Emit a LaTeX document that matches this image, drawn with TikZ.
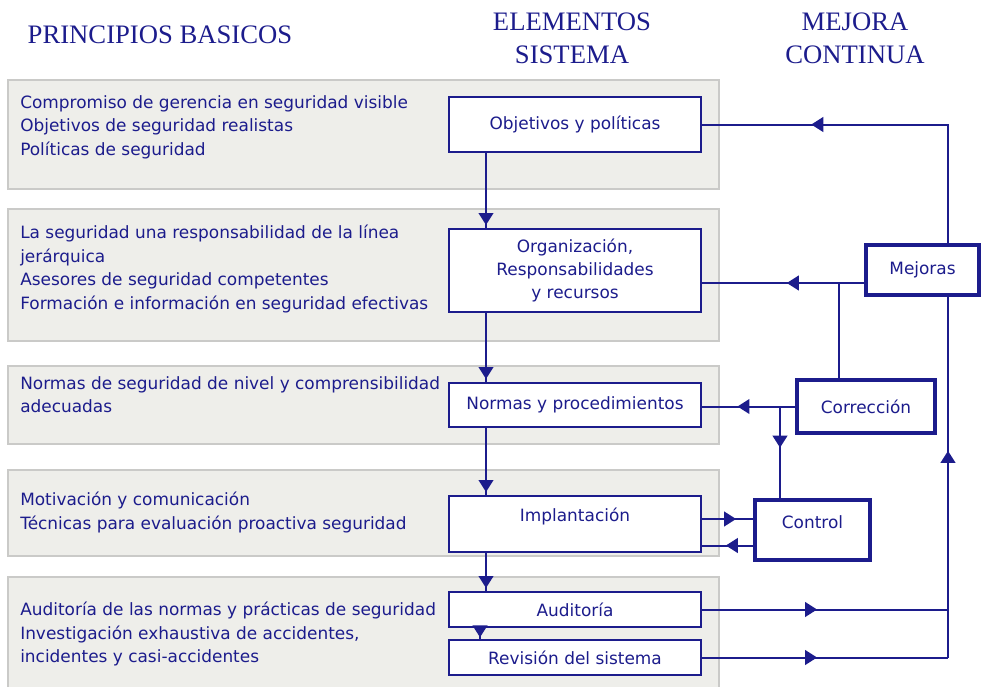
\documentclass[tikz,border=0pt]{standalone}
\usepackage{fontspec}
\setmainfont{DejaVu Sans}
\newfontfamily\headfont{Liberation Serif}
\usetikzlibrary{arrows.meta,decorations.markings,calc}

\definecolor{navy}{RGB}{28,28,140}
\definecolor{bandfill}{RGB}{238,238,234}
\definecolor{bandline}{RGB}{202,202,200}

\tikzset{
  band/.style={fill=bandfill, draw=bandline, line width=1.5pt},
  elem/.style={draw=navy, line width=1.5pt, fill=white, text=navy, inner sep=0pt, outer sep=0pt,
    minimum width=189pt, align=center, font=\fontsize{12.7}{17.6}\selectfont},
  loopbox/.style={elem, line width=3pt},
  flow/.style={draw=navy, line width=1.5pt},
  tipat/.style={decoration={markings, mark=at position #1 with {\arrow{Triangle[length=9pt,width=11pt]}}}, postaction={decorate}},
  princ/.style={anchor=north west, text=navy, align=left, inner sep=0pt, font=\fontsize{12.7}{17.6}\selectfont},
  head/.style={text=navy, align=center, inner sep=0pt, font=\headfont\fontsize{20}{25}\selectfont}
}

\begin{document}
\begin{tikzpicture}[x=0.75pt, y=-0.75pt]

	\useasboundingbox (0,0) rectangle (981,686);
	\clip (0,0) rectangle (981,686);

	% bands
	\draw [band] (8,80) rectangle (719,189);
	\draw [band] (8,209) rectangle (719,341);
	\draw [band] (8,366) rectangle (719,444);
	\draw [band] (8,470) rectangle (719,556);
	\draw [band] (8,577) rectangle (719,700);

	% headings
	\node [head] (hprin) at (160,35) {PRINCIPIOS BASICOS};
	\node [head] (helem) at (572,38) {ELEMENTOS\\SISTEMA};
	\node [head] (hmej) at (855,38) {MEJORA\\CONTINUA};

	% principles
	\node [princ] (p1) at (20,95) {Compromiso de gerencia en seguridad visible\\Objetivos de seguridad realistas\\Políticas de seguridad};
	\node [princ] (p2) at (20,225) {La seguridad una responsabilidad de la línea\\jerárquica\\Asesores de seguridad competentes\\Formación e información en seguridad efectivas};
	\node [princ] (p3) at (20,376) {Normas de seguridad de nivel y comprensibilidad\\adecuadas};
	\node [princ] (p4) at (20,492) {Motivación y comunicación\\Técnicas para evaluación proactiva seguridad};
	\node [princ] (p5) at (20,602) {Auditoría de las normas y prácticas de seguridad\\Investigación exhaustiva de accidentes,\\incidentes y casi-accidentes};

	% system elements
	\node [elem, minimum height=41.25pt] (obj) at (575,124.5) {Objetivos y políticas};
	\node [elem, minimum height=62.25pt] (org) at (575,270.5) {Organización,\\Responsabilidades\\y recursos};
	\node [elem, minimum height=33pt] (norm) at (575,405) {Normas y procedimientos};
	\node [elem, minimum height=42pt, label={[text=navy, font=\fontsize{12.7}{17.6}\selectfont, yshift=6pt]center:Implantación}] (impl) at (575,524) {};
	\node [elem, minimum height=26.25pt] (aud) at (575,609.5) {Auditoría};
	\node [elem, minimum height=26.25pt] (rev) at (575,657.5) {Revisión del sistema};

	% continuous improvement
	\node [loopbox, minimum width=84.75pt, minimum height=37.5pt] (mej) at (922.5,270) {Mejoras};
	\node [loopbox, minimum width=103.5pt, minimum height=39.75pt] (corr) at (866,406.5) {Corrección};
	\node [loopbox, minimum width=86.25pt, minimum height=45pt, label={[text=navy, font=\fontsize{12.7}{17.6}\selectfont, yshift=6pt]center:Control}] (ctrl) at (812.5,530) {};

	\coordinate (spine) at (486,0);
	\coordinate (trunk) at (948,0);
	\coordinate (split) at (839,0);
	\coordinate (branch) at (780,0);
	\coordinate (mejout) at ($(mej.west)+(0,13)$);
	\coordinate (implout) at ($(impl.east)+(0,-5)$);
	\coordinate (implin) at ($(impl.east)+(0,21.5)$);

	% main chain
	\draw [flow, tipat=-3pt] (obj.south -| spine) -- (org.north -| spine);
	\draw [flow, tipat=-3pt] (org.south -| spine) -- (norm.north -| spine);
	\draw [flow, tipat=-3pt] (norm.south -| spine) -- (impl.north -| spine);
	\draw [flow, tipat=-3pt] (impl.south -| spine) -- (aud.north -| spine);
	\draw [flow, tipat=-2pt] ($(aud.south)+(-95,0)$) -- ($(rev.north)+(-95,0)$);

	% feedback
	\draw [flow, tipat=0.7] (mej.north -| trunk) |- (obj.east);
	\draw [flow, tipat=0.48] (mejout) -- (mejout -| org.east);
	\draw [flow] (corr.north -| split) -- (mejout -| split);
	\draw [flow, tipat=0.62] (corr.west) -- (corr.west -| norm.east);
	\draw [flow, tipat=0.44] (corr.west -| branch) -- (ctrl.north -| branch);
	\draw [flow, tipat=0.65] (implout) -- (implout -| ctrl.west);
	\draw [flow, tipat=0.54] (implin -| ctrl.west) -- (implin);
	\draw [flow, tipat=0.47] (aud.east) -- (aud.east -| trunk);
	\draw [flow, tipat=0.47] (rev.east) -- (rev.east -| trunk);
	\draw [flow, tipat=0.57] (rev.east -| trunk) -- (mej.south -| trunk);

\end{tikzpicture}
\end{document}
